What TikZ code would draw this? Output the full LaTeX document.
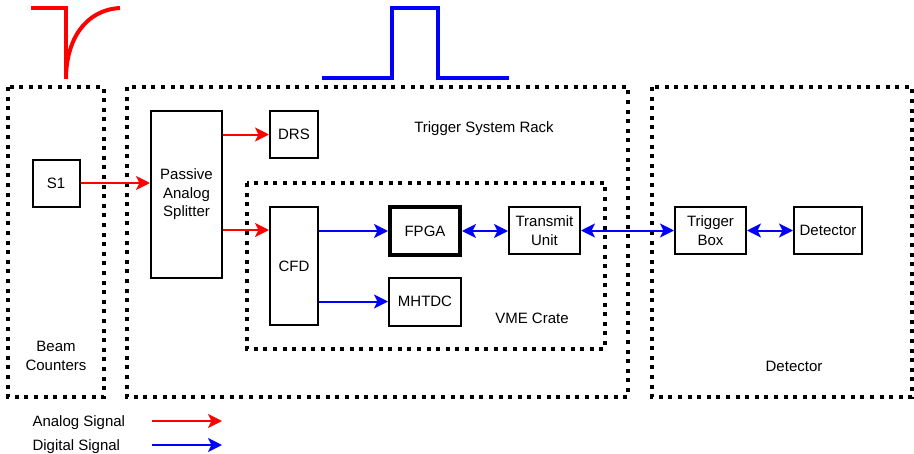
\documentclass[tikz,border=0pt]{standalone}
\usepackage{fontspec}
\setmainfont{Liberation Sans}
\usetikzlibrary{arrows.meta}
\definecolor{sigred}{RGB}{255,0,0}
\definecolor{sigblue}{RGB}{0,0,255}
\begin{document}
\begin{tikzpicture}[x=1pt,y=-1pt,
  font=\fontsize{15}{18.5}\selectfont,
  unit/.style={draw=black,line width=2pt,fill=white,inner sep=1pt,align=center},
  fpgabox/.style={unit,line width=4pt},
  enclosure/.style={draw=black,line width=4pt,dash pattern=on 4pt off 5.6pt},
  tipk/.tip={Stealth[length=14pt,width=14pt,inset=3.5pt]},
  analog/.style={draw=sigred,line width=2pt,-tipk},
  digital/.style={draw=sigblue,line width=2pt,-tipk},
  digital2/.style={draw=sigblue,line width=2pt,tipk-tipk},
  pulse/.style={line width=4pt,line cap=butt,line join=miter}]
\useasboundingbox (0,0) rectangle (914,453);

% dotted enclosures
\draw[enclosure] (8,87) rectangle (104,397);
\draw[enclosure] (127,87) rectangle (628,397);
\draw[enclosure] (247,183) rectangle (605,349);
\draw[enclosure] (652,87) rectangle (912,397);

% enclosure captions
\node (lbeam) at (56,356) [align=center] {Beam\\Counters};
\node (lrack) at (484,128.5) {Trigger System Rack};
\node (lvme) at (532,318) {VME Crate};
\node (ldet) at (794,366) {Detector};

% signal shapes above the racks
\draw[pulse,sigred] (31,8) -- (66,8) -- (66,79);
\draw[pulse,sigred] (66,79) .. controls (66,40) and (85,10) .. (120,8);
\draw[pulse,sigblue] (322,78) -- (392,78) -- (392,8) -- (438,8) -- (438,78) -- (509,78);

% units
\node[unit,minimum width=47pt,minimum height=47pt] (s1) at (56,183) {S1};
\node[unit,minimum width=71pt,minimum height=167pt] (split) at (186.5,194.5) {Passive\\Analog\\Splitter};
\node[unit,minimum width=48pt,minimum height=47pt] (drs) at (294,134.5) {DRS};
\node[unit,minimum width=48pt,minimum height=118pt] (cfd) at (294,266) {CFD};
\node[fpgabox,minimum width=70pt,minimum height=48pt] (fpga) at (425,231) {FPGA};
\node[unit,minimum width=72pt,minimum height=48pt] (mhtdc) at (425,301.5) {MHTDC};
\node[unit,minimum width=71pt,minimum height=47pt] (tx) at (544.5,230.5) {Transmit\\Unit};
\node[unit,minimum width=71pt,minimum height=47pt] (tbox) at (710.5,230.5) {Trigger\\Box};
\node[unit,minimum width=68pt,minimum height=47pt] (det) at (828,230.5) {Detector};

% signal paths
\draw[analog] (s1.east) -- (split.west |- s1.east);
\draw[analog] (split.east |- drs.west) -- (drs.west);
\draw[analog] (split.east |- 0,230) -- (cfd.west |- 0,230);
\draw[digital] (cfd.east |- fpga.west) -- (fpga.west);
\draw[digital] (cfd.east |- mhtdc.west) -- (mhtdc.west);
\draw[digital2] (fpga.east) -- (tx.west |- fpga.east);
\draw[digital2] (tx.east) -- (tbox.west);
\draw[digital2] (tbox.east) -- (det.west);

% legend
\node[anchor=west] (lana) at (29,422.5) {Analog Signal};
\node[anchor=west] (ldig) at (29,446.5) {Digital Signal};
\coordinate (la0) at (152,421); \coordinate (la1) at (222,421);
\coordinate (ld0) at (152,445); \coordinate (ld1) at (222,445);
\draw[analog] (la0) -- (la1);
\draw[digital] (ld0) -- (ld1);
\end{tikzpicture}
\end{document}
